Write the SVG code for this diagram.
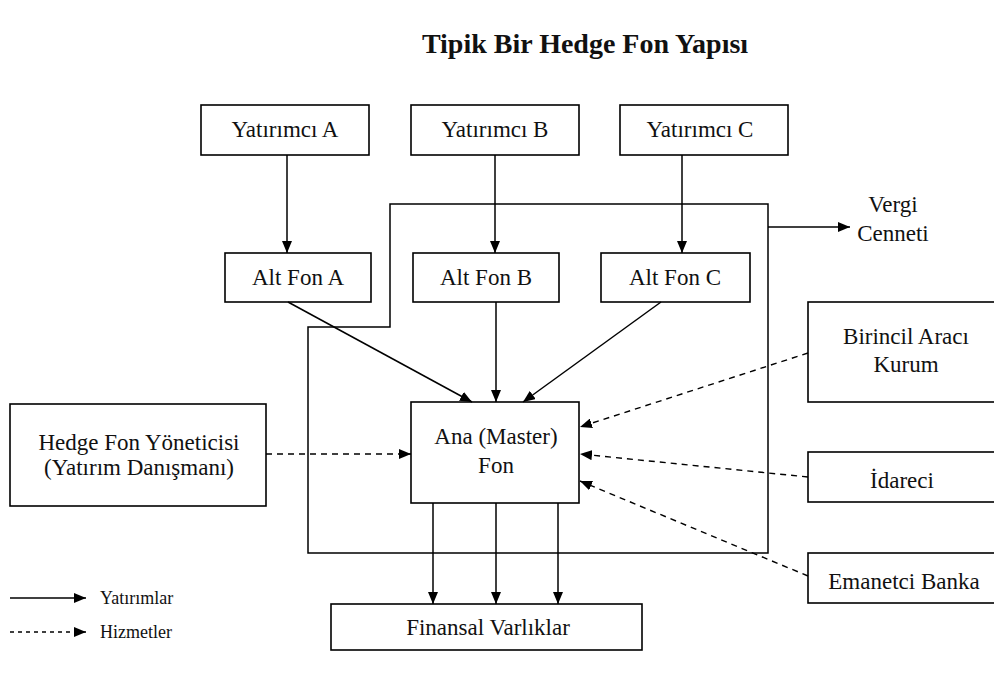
<svg xmlns="http://www.w3.org/2000/svg" width="994" height="675" viewBox="0 0 994 675">
<defs>
<style>
.bx{fill:#fff;stroke:#000;stroke-width:1.6}
.t{font-family:"Liberation Serif","Times New Roman",serif;font-size:23px;fill:#111;text-anchor:middle}
.lg{font-family:"Liberation Serif","Times New Roman",serif;font-size:18px;fill:#111}
.s{stroke:#000;stroke-width:1.5;fill:none}
.d{stroke:#000;stroke-width:1.4;fill:none;stroke-dasharray:6 5}
</style>
<marker id="ah" viewBox="0 0 12 10" refX="12" refY="5" markerWidth="12" markerHeight="10" orient="auto" markerUnits="userSpaceOnUse"><path d="M0,0 L12,5 L0,10 Z" fill="#000"/></marker>
</defs>
<rect width="994" height="675" fill="#fff"/>
<text x="585" y="53" style="font-family:'Liberation Serif','Times New Roman',serif;font-size:28px;font-weight:bold;text-anchor:middle;fill:#111">Tipik Bir Hedge Fon Yapısı</text>

<g id="enclosure"><path class="s" d="M390,204 H768 V553 H308 V327 H390 Z"/></g>

<g id="yatA"><rect class="bx" x="201" y="105" width="168" height="50"/><text class="t" x="285" y="137">Yatırımcı A</text></g>
<g id="yatB"><rect class="bx" x="411" y="105" width="168" height="50"/><text class="t" x="495" y="137">Yatırımcı B</text></g>
<g id="yatC"><rect class="bx" x="620" y="105" width="168" height="50"/><text class="t" x="700" y="137">Yatırımcı C</text></g>

<g id="altA"><rect class="bx" x="225" y="253" width="146" height="49"/><text class="t" x="298" y="285">Alt Fon A</text></g>
<g id="altB"><rect class="bx" x="413" y="253" width="146" height="49"/><text class="t" x="486" y="285">Alt Fon B</text></g>
<g id="altC"><rect class="bx" x="601" y="253" width="149" height="49"/><text class="t" x="675" y="285">Alt Fon C</text></g>

<g id="ana"><rect class="bx" x="411" y="402" width="168" height="101"/><text class="t" x="496" y="444">Ana (Master)</text><text class="t" x="496" y="473">Fon</text></g>

<g id="hedge"><rect class="bx" x="10" y="404" width="256" height="102"/><text class="t" x="139" y="450">Hedge Fon Yöneticisi</text><text class="t" x="139" y="475">(Yatırım Danışmanı)</text></g>

<g id="vergi"><text class="t" x="893" y="212">Vergi</text><text class="t" x="893" y="241">Cenneti</text></g>

<g id="birincil"><rect class="bx" x="808" y="302" width="200" height="100"/><text class="t" x="906" y="344">Birincil Aracı</text><text class="t" x="906" y="372">Kurum</text></g>
<g id="idareci"><rect class="bx" x="808" y="452" width="200" height="50"/><text class="t" x="902" y="488">İdareci</text></g>
<g id="emanetci"><rect class="bx" x="808" y="553" width="200" height="50"/><text class="t" x="904" y="589">Emanetci Banka</text></g>

<g id="finansal"><rect class="bx" x="331" y="604" width="311" height="46"/><text class="t" x="488" y="635">Finansal Varlıklar</text></g>

<g id="connectors">
<line class="s" x1="287" y1="155" x2="287" y2="253" marker-end="url(#ah)"/>
<line class="s" x1="495" y1="155" x2="495" y2="253" marker-end="url(#ah)"/>
<line class="s" x1="682" y1="155" x2="682" y2="253" marker-end="url(#ah)"/>
<line class="s" x1="768" y1="227" x2="850" y2="227" marker-end="url(#ah)"/>
<line class="s" x1="288" y1="302" x2="472" y2="402" marker-end="url(#ah)"/>
<line class="s" x1="496" y1="302" x2="496" y2="402" marker-end="url(#ah)"/>
<line class="s" x1="661" y1="302" x2="523" y2="402" marker-end="url(#ah)"/>
<line class="s" x1="433" y1="503" x2="433" y2="604" marker-end="url(#ah)"/>
<line class="s" x1="496" y1="503" x2="496" y2="604" marker-end="url(#ah)"/>
<line class="s" x1="558" y1="503" x2="558" y2="604" marker-end="url(#ah)"/>
<line class="d" x1="266" y1="454" x2="411" y2="454" marker-end="url(#ah)"/>
<line class="d" x1="808" y1="353" x2="580" y2="427" marker-end="url(#ah)"/>
<line class="d" x1="808" y1="477" x2="580" y2="454" marker-end="url(#ah)"/>
<line class="d" x1="808" y1="576" x2="580" y2="481" marker-end="url(#ah)"/>
</g>

<g id="legend">
<line class="s" x1="10" y1="598" x2="86" y2="598" marker-end="url(#ah)"/>
<text class="lg" x="100" y="604">Yatırımlar</text>
<line class="d" x1="10" y1="632" x2="86" y2="632" marker-end="url(#ah)" style="stroke-dasharray:4 4"/>
<text class="lg" x="100" y="638">Hizmetler</text>
</g>
</svg>
